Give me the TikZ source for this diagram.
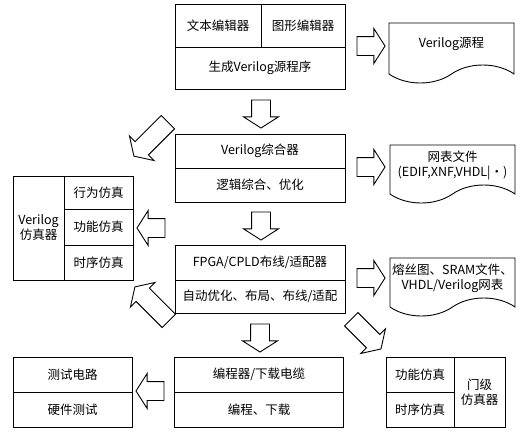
\documentclass[tikz,border=0pt]{standalone}
\usepackage{fontspec}
\setmainfont{Noto Sans CJK SC}
\usepackage{tikz}
\usetikzlibrary{shapes.arrows,shapes.symbols,calc}

\begin{document}
\begin{tikzpicture}[x=1pt, y=-1pt, font=\fontsize{12.5}{15}\selectfont,
    cell/.style={rectangle, draw, line width=0.9pt, inner sep=0pt, outer sep=0pt, align=center},
    docbox/.style={tape, draw, line width=0.9pt, tape bend top=none, tape bend bottom=in and out, tape bend height=18pt, minimum width=125pt, inner sep=0pt, align=center},
    fatarrow/.style={single arrow, draw, line width=0.9pt, inner sep=9pt, single arrow head extend=8pt, single arrow tip angle=115, minimum height=#1},
    fatarrow/.default=28pt]
    \useasboundingbox (0,0) rectangle (527,447);

    % Editor boxes
    \node[cell, minimum width=86pt, minimum height=43pt] (txted) at (218,25.5) {文本编辑器};
    \node[cell, minimum width=84pt, minimum height=43pt] (grfed) at (303,25.5) {图形编辑器};
    \node[cell, minimum width=170pt, minimum height=42pt] (gen) at (260,68) {生成Verilog源程序};

    % Synthesis boxes
    \node[cell, minimum width=170pt, minimum height=34pt] (syn) at (260,151) {Verilog综合器};
    \node[cell, minimum width=170pt, minimum height=34pt] (synopt) at (260,185) {逻辑综合、优化};

    % Fitter boxes
    \node[cell, minimum width=170pt, minimum height=35pt] (fit) at (260,262.5) {FPGA/CPLD布线/适配器};
    \node[cell, minimum width=170pt, minimum height=33pt] (fitopt) at (260,296.5) {自动优化、布局、布线/适配};

    % Programmer boxes
    \node[cell, minimum width=169pt, minimum height=35pt] (prog) at (259,374.5) {编程器/下载电缆};
    \node[cell, minimum width=169pt, minimum height=35pt] (progdl) at (259,409.5) {编程、下载};

    % Verilog simulator
    \node[cell, minimum width=51pt, minimum height=104pt] (vsim) at (38.5,228) {Verilog\\仿真器};
    \node[cell, minimum width=69pt, minimum height=33pt] (behsim) at (98.5,192.5) {行为仿真};
    \node[cell, minimum width=69pt, minimum height=36pt] (funsim) at (98.5,227) {功能仿真};
    \node[cell, minimum width=69pt, minimum height=35pt] (timsim) at (98.5,262.5) {时序仿真};

    % Test boxes
    \node[cell, minimum width=119pt, minimum height=35pt] (tcirc) at (72.5,374.5) {测试电路};
    \node[cell, minimum width=119pt, minimum height=35pt] (hwtest) at (72.5,409.5) {硬件测试};

    % Gate level simulator
    \node[cell, minimum width=68pt, minimum height=35pt] (gfun) at (420,374.5) {功能仿真};
    \node[cell, minimum width=68pt, minimum height=35pt] (gtim) at (420,409.5) {时序仿真};
    \node[cell, minimum width=51pt, minimum height=70pt] (gsim) at (479.5,392) {门级\\仿真器};

    % Output files
    \node[docbox, minimum height=60pt] (srcdoc) at (451.5,44) {Verilog源程};
    \node[docbox, minimum height=58pt] (netdoc) at (452.5,165) {网表文件\\(EDIF,XNF,VHDL|•)};
    \node[docbox, minimum height=58pt] (fusedoc) at (452.5,278) {熔丝图、SRAM文件、\\VHDL/Verilog网表};

    % Block arrows
    \node[fatarrow] (a1) at (368,46) {};
    \node[fatarrow] (a2) at (368,167) {};
    \node[fatarrow] (a3) at (368,278) {};
    \node[fatarrow, rotate=-90] (d1) at (261,111) {};
    \node[fatarrow, rotate=-90] (d2) at (261,223) {};
    \node[fatarrow, rotate=-90] (d3) at (260,335) {};
    \node[fatarrow, rotate=180] (l1) at (154,228) {};
    \node[fatarrow, rotate=180] (l2) at (153,391) {};
    \node[fatarrow=48pt, rotate=225] (g1) at (153,137) {};
    \node[fatarrow=48pt, rotate=135] (g2) at (154,306) {};
    \node[fatarrow=42pt, rotate=-45] (g3) at (364,332) {};
\end{tikzpicture}
\end{document}
